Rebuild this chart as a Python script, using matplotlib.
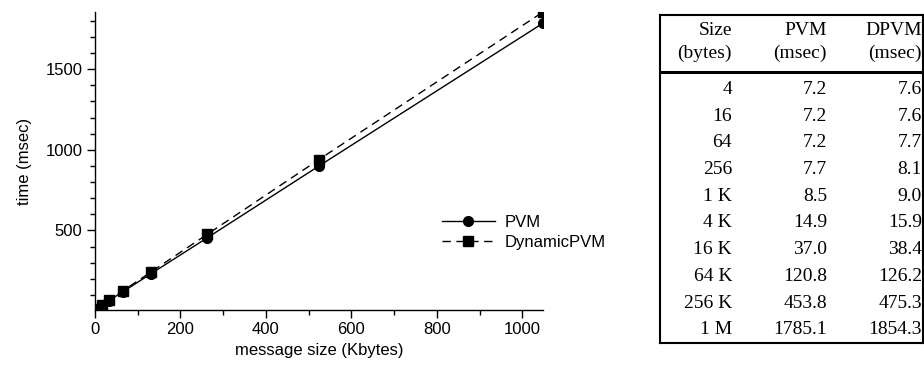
import matplotlib
matplotlib.use('Agg')
import matplotlib.pyplot as plt
from matplotlib.ticker import MultipleLocator

# message sizes in bytes for the plotted points
sizes_bytes = [4, 16, 64, 256, 1024, 4096, 16384, 32768, 65536,
               131072, 262144, 524288, 1048576]
pvm_times = [7.2, 7.2, 7.2, 7.7, 8.5, 14.9, 37.0, 66.0, 120.8,
             232.0, 453.8, 900.0, 1785.1]
dpvm_times = [7.6, 7.6, 7.7, 8.1, 9.0, 15.9, 38.4, 69.0, 126.2,
              243.0, 475.3, 940.0, 1854.3]

# table contents
table_header = [['Size', 'PVM', 'DPVM'], ['(bytes)', '(msec)', '(msec)']]
table_sizes = ['4', '16', '64', '256', '1 K', '4 K', '16 K', '64 K', '256 K', '1 M']
table_pvm = ['7.2', '7.2', '7.2', '7.7', '8.5', '14.9', '37.0', '120.8', '453.8', '1785.1']
table_dpvm = ['7.6', '7.6', '7.7', '8.1', '9.0', '15.9', '38.4', '126.2', '475.3', '1854.3']

W, H = 924, 370
fig = plt.figure(figsize=(W / 100, H / 100), dpi=100)

sans = ['Liberation Sans', 'DejaVu Sans']
serif = ['Liberation Serif', 'DejaVu Serif']

# --- line plot ---
ax = fig.add_axes([95 / W, 1 - 310 / H, 448 / W, 298 / H])
x_kb = [b / 1000 for b in sizes_bytes]
ax.plot(x_kb, pvm_times, color='black', lw=1.0, marker='o', markersize=7,
        label='PVM')
ax.plot(x_kb, dpvm_times, color='black', lw=1.0, linestyle=(0, (6, 4)),
        marker='s', markersize=7, label='DynamicPVM')

ax.set_xlim(0, max(x_kb))
ax.set_ylim(min(pvm_times), max(dpvm_times))
ax.xaxis.set_major_locator(MultipleLocator(200))
ax.xaxis.set_minor_locator(MultipleLocator(100))
ax.yaxis.set_major_locator(MultipleLocator(500))
ax.yaxis.set_minor_locator(MultipleLocator(100))
ax.tick_params(which='major', length=6, width=1, direction='out', labelsize=12, pad=3)
ax.tick_params(which='minor', length=3.5, width=1, direction='out')
for lab in ax.get_xticklabels() + ax.get_yticklabels():
    lab.set_family(sans)
for s in ['top', 'right']:
    ax.spines[s].set_visible(False)
for s in ['left', 'bottom']:
    ax.spines[s].set_linewidth(1.0)
ax.set_xlabel('message size (Kbytes)', fontsize=12, family=sans, labelpad=4)
ax.set_ylabel('time (msec)', fontsize=12, family=sans, labelpad=10)

ax.legend(loc='upper left', bbox_to_anchor=(0.74, 0.37), frameon=False,
          handlelength=3.2, handletextpad=0.6, labelspacing=0.3,
          prop={'family': sans, 'size': 12})

# --- table ---
tax = fig.add_axes([660 / W, 1 - 343 / H, 263 / W, 328 / H])
tax.set_xlim(0, 1)
tax.set_ylim(12.3, 0)
tax.set_xticks([])
tax.set_yticks([])
for s in tax.spines.values():
    s.set_linewidth(1.5)

col_right = [0.274, 0.635, 0.996]
for r, row in enumerate(table_header):
    for c, txt in enumerate(row):
        tax.text(col_right[c], 0.6 + r * 0.85, txt, ha='right', va='center',
                 fontsize=14, family=serif)
tax.axhline(2.15, color='black', lw=2.2)

for i in range(len(table_sizes)):
    y = 2.8 + i
    for c, txt in enumerate([table_sizes[i], table_pvm[i], table_dpvm[i]]):
        tax.text(col_right[c], y, txt, ha='right', va='center',
                 fontsize=14, family=serif)

fig.savefig('out.png', dpi=100)
